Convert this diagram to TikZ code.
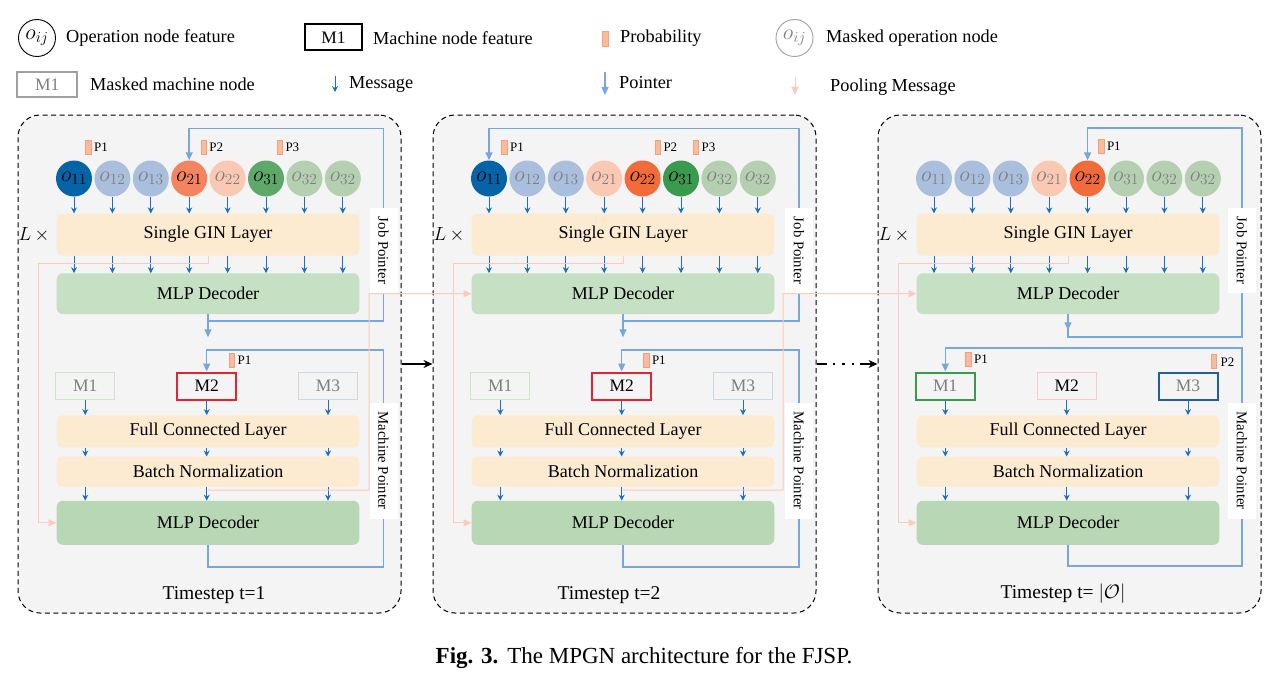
\RequirePackage{fix-cm}
\documentclass[tikz,border=0pt]{standalone}
\usepackage{fontspec}
\setmainfont{Liberation Serif}
\usetikzlibrary{arrows.meta,calc}
\newcommand\myfs[1]{\fontsize{#1}{#1}\selectfont}
\definecolor{panelbg}{HTML}{F4F4F4}
\definecolor{lyrfill}{HTML}{FCEBD1}
\definecolor{mlpA}{HTML}{C6E0C4}
\definecolor{mlpB}{HTML}{B8D8B5}
\definecolor{opblue}{HTML}{0563A8}
\definecolor{mskblue}{HTML}{A9BFDD}
\definecolor{oporange}{HTML}{F4845F}
\definecolor{mskorange}{HTML}{FAC8B3}
\definecolor{opgreen}{HTML}{5EA96A}
\definecolor{opgreen2}{HTML}{3A9A4F}
\definecolor{mskgreen}{HTML}{B5D0B1}
\definecolor{opred}{HTML}{F26B3A}
\definecolor{msgblue}{HTML}{1F6EBF}
\definecolor{ptrblue}{HTML}{79A6DB}
\definecolor{poolpink}{HTML}{FBCBBB}
\definecolor{probfill}{HTML}{F9BB9E}
\definecolor{probdraw}{HTML}{F4A07D}
\definecolor{m1green}{HTML}{CFE4CB}
\definecolor{m3blue}{HTML}{C8D8EC}
\definecolor{m2red}{HTML}{E52330}
\definecolor{m1dark}{HTML}{3C9A4C}
\definecolor{m3dark}{HTML}{1F5DA6}
\definecolor{m2pink}{HTML}{F8C9CD}
\definecolor{mskgray}{HTML}{7E7E7E}
\definecolor{lgray}{HTML}{A0A0A0}

\tikzset{
  panel/.style={draw=black, line width=1pt, dash pattern=on 5pt off 3.5pt, rounded corners=22pt, fill=panelbg, minimum width=383pt, minimum height=498pt, inner sep=0pt},
  lyr/.style={rounded corners=6pt, fill=lyrfill, minimum width=302.6pt, inner sep=0pt, font={\myfs{18}}},
  opnode/.style={circle, minimum size=36pt, inner sep=0pt, font={\myfs{22}}},
  mach/.style={draw, minimum width=59pt, minimum height=27pt, inner sep=0pt, font={\myfs{17.5}}},
  prob/.style={fill=probfill, draw=probdraw, line width=0.6pt, minimum width=5.5pt, minimum height=14pt, inner sep=0pt},
  plab/.style={anchor=west, inner sep=0pt, font={\myfs{13}}},
  msg/.style={draw=msgblue, line width=0.9pt, -{Stealth[length=6pt,width=6pt]}},
  ptr/.style={draw=ptrblue, line width=1.5pt, -{Triangle[length=8pt,width=7pt]}},
  pool/.style={draw=poolpink, line width=1pt, -{Triangle[length=8pt,width=7pt]}},
  ptrlab/.style={fill=white, rotate=-90, minimum height=28pt, inner sep=0pt, font={\myfs{14.8}}},
  legtext/.style={anchor=west, inner sep=0pt, font={\myfs{18.3}}},
  tslab/.style={inner sep=0pt, font={\myfs{19.5}}},
}

% common body of a panel: #1 suffix, #2 list of operation nodes
\newcommand\panelbody[2]{%
  \foreach \i/\lab/\fc/\tc in {#2}{%
    \node[opnode, fill=\fc, text=\tc] (o#1\i) at ({74+38.4*(\i-1)},178.5) {$o_{\lab}$};}
  \node[lyr, minimum height=42pt] (gin#1) at (208,234.6) {Single GIN Layer};
  \node[lyr, fill=mlpA, minimum height=40.7pt] (mlpa#1) at (208,293.7) {MLP Decoder};
  \node[lyr, minimum height=32pt] (fc#1) at (208,431.3) {Full Connected Layer};
  \node[lyr, minimum height=30pt] (bn#1) at (208,471.7) {Batch Normalization};
  \node[lyr, fill=mlpB, minimum height=44pt] (mlpb#1) at (208,522.8) {MLP Decoder};
  \node[inner sep=0pt, font={\myfs{19}}] (L#1) at (34,235) {$L\,\times$};
  \foreach \i in {1,...,8}{%
    \draw[msg] (o#1\i.south) -- (o#1\i.south |- gin#1.north);
    \draw[msg] (o#1\i.south |- gin#1.south) -- (o#1\i.south |- mlpa#1.north);}
  \draw[pool] (gin#1.south) |- (38.5,263.3) |- (mlpb#1.west);
}
% machines: #1 suffix, #2 #3 #4 options of M1 M2 M3
\newcommand\machines[4]{%
  \node[mach, #2] (m1#1) at (85.3,386) {M1};
  \node[mach, #3] (m2#1) at (206.7,386) {M2};
  \node[mach, #4] (m3#1) at (328,386) {M3};
  \foreach \m in {m1#1,m2#1,m3#1}{%
    \draw[msg] (\m.south) -- (\m.south |- fc#1.north);
    \draw[msg] (\m.south |- fc#1.south) -- (\m.south |- bn#1.north);
    \draw[msg] (\m.south |- bn#1.south) -- (\m.south |- mlpb#1.north);}
}
% pointer labels: #1 suffix, #2 x
\newcommand\ptrlabels[2]{%
  \node[ptrlab, minimum width=85pt] (jp#1) at (#2,250.5) {Job Pointer};
  \node[ptrlab, minimum width=116pt] (mp#1) at (#2,460.5) {Machine Pointer};
}

\begin{document}
\begin{tikzpicture}[x=1pt,y=-1pt]
\useasboundingbox (0,0) rectangle (1286,677);

% ---------- legend ----------
\node[opnode, draw=black, line width=0.9pt, minimum size=37pt] (lgop) at (37,38) {$o_{ij}$};
\node[legtext] (lgoptx) at (66,38) {Operation node feature};
\node[mach, draw=black, line width=2pt, minimum width=57pt, minimum height=26pt] (lgm) at (333.5,37.5) {M1};
\node[legtext] (lgmtx) at (373,38) {Machine node feature};
\node[prob, minimum height=15pt, minimum width=6pt] (lgp) at (605.5,39) {};
\node[legtext] (lgptx) at (620,38) {Probability};
\node[opnode, draw=lgray, line width=0.9pt, text=mskgray, minimum size=37pt] (lgmo) at (794.5,38) {$o_{ij}$};
\node[legtext] (lgmotx) at (826,38) {Masked operation node};
\node[mach, draw=lgray, line width=2pt, text=mskgray, minimum width=60pt, minimum height=25pt] (lgmm) at (47.3,84.5) {M1};
\node[legtext] (lgmmtx) at (90,84) {Masked machine node};
\coordinate (lgmsg1) at (335,76); \coordinate (lgmsg2) at (335,92);
\draw[msg] (lgmsg1) -- (lgmsg2);
\node[legtext] (lgmsgtx) at (349,84) {Message};
\coordinate (lgptr1) at (605,72); \coordinate (lgptr2) at (605,95);
\draw[ptr] (lgptr1) -- (lgptr2);
\node[legtext] (lgptrtx) at (619,83) {Pointer};
\coordinate (lgpool1) at (795,77); \coordinate (lgpool2) at (795,95);
\draw[pool] (lgpool1) -- (lgpool2);
\node[legtext] (lgpooltx) at (830,87) {Pooling Message};

% ---------- panels ----------
\node[panel] (pa) at (209.5,364) {};
\node[panel] (pb) at (624.5,364) {};
\node[panel] (pc) at (1069.5,364) {};

% ---------- panel 1 ----------
\begin{scope}
\panelbody{a}{1/11/opblue/black,2/12/mskblue/mskgray,3/13/mskblue/mskgray,4/21/oporange/black,5/22/mskorange/mskgray,6/31/opgreen/black,7/32/mskgreen/mskgray,8/32/mskgreen/mskgray}
\machines{a}{draw=m1green,line width=1.3pt,text=mskgray}{draw=m2red,line width=2pt,text=black}{draw=m3blue,line width=1.3pt,text=mskgray}
\node[prob] (pra1) at (88.5,147) {}; \node[plab] (pla1) at (94,147) {P1};
\node[prob] (pra2) at (203.7,147) {}; \node[plab] (pla2) at (209.2,147) {P2};
\node[prob] (pra3) at (279.8,147) {}; \node[plab] (pla3) at (285.3,147) {P3};
\node[prob] (pma1) at (232,360.5) {}; \node[plab] (pmla1) at (237.5,360.5) {P1};
\draw[ptr] (mlpaa.south) -- ++(0,23);
\draw[ptr] (mlpaa.south) |- (383.5,321) -- (383.5,128.5) -| (oa4.north);
\draw[ptr] (mlpba.south) |- (383.5,567) -- (383.5,350) -| (m2a.north);
\ptrlabels{a}{383.5}
\node[tslab] (tsa) at (214,595) {Timestep t=1};
\end{scope}

% ---------- panel 2 ----------
\begin{scope}[xshift=415pt]
\panelbody{b}{1/11/opblue/black,2/12/mskblue/mskgray,3/13/mskblue/mskgray,4/21/mskorange/mskgray,5/22/opred/black,6/31/opgreen2/black,7/32/mskgreen/mskgray,8/32/mskgreen/mskgray}
\machines{b}{draw=m1green,line width=1.3pt,text=mskgray}{draw=m2red,line width=2pt,text=black}{draw=m3blue,line width=1.3pt,text=mskgray}
\node[prob] (prb1) at (89.5,147) {}; \node[plab] (plb1) at (95,147) {P1};
\node[prob] (prb2) at (242.8,147) {}; \node[plab] (plb2) at (248.3,147) {P2};
\node[prob] (prb3) at (281,147) {}; \node[plab] (plb3) at (286.5,147) {P3};
\node[prob] (pmb1) at (231.3,360.5) {}; \node[plab] (pmlb1) at (236.8,360.5) {P1};
\draw[ptr] (mlpab.south) -- ++(0,23);
\draw[ptr] (mlpab.south) |- (384,321) -- (384,128.5) -| (ob1.north);
\draw[ptr] (mlpbb.south) |- (384,567) -- (384,350) -| (m2b.north);
\ptrlabels{b}{384}
\node[tslab] (tsb) at (194,595) {Timestep t=2};
\end{scope}

% ---------- panel 3 ----------
\begin{scope}[xshift=860pt]
\panelbody{c}{1/11/mskblue/mskgray,2/12/mskblue/mskgray,3/13/mskblue/mskgray,4/21/mskorange/mskgray,5/22/opred/black,6/31/mskgreen/mskgray,7/32/mskgreen/mskgray,8/32/mskgreen/mskgray}
\machines{c}{draw=m1dark,line width=2pt,text=mskgray}{draw=m2pink,line width=1.3pt,text=black}{draw=m3dark,line width=2pt,text=mskgray}
\node[prob] (prc1) at (241.3,146) {}; \node[plab] (plc1) at (246.8,146) {P1};
\node[prob] (pmc1) at (108.3,359.5) {}; \node[plab] (pmlc1) at (114,359.5) {P1};
\node[prob] (pmc2) at (354,361.7) {}; \node[plab] (pmlc2) at (360.5,361.7) {P2};
\draw[ptr] (mlpac.south) -- ++(0,16);
\draw[ptr] (mlpac.south) |- (382,337) -- (382,128) -| (oc5.north);
\draw[ptr] (mlpbc.south) |- (382,566) -- (382,348) -| (m1c.north);
\ptrlabels{c}{382}
\node[tslab] (tsc) at (203,594) {Timestep t= $|\mathcal{O}|$};
\end{scope}

% ---------- pooling messages between panels ----------
\coordinate (poola) at ($(bna.south)+(0,3.3)$);
\draw[pool] (poola) -- (369,490) |- (mlpab.west);
\coordinate (poolb) at ($(bnb.south)+(0,3.3)$);
\draw[pool] (poolb) -- (783,490) |- (mlpac.west);

% ---------- timestep arrows ----------
\draw[line width=1.6pt, -{Stealth[length=9pt,width=8pt]}] (pa.east) -- (pb.west);
\draw[line width=1.6pt, dash pattern=on 10pt off 6pt on 2.5pt off 7pt on 2.5pt off 7pt on 2.5pt off 6pt on 100pt off 1pt, -{Stealth[length=9pt,width=8pt]}] (pb.east) -- (pc.west);

% ---------- caption ----------
\node[inner sep=0pt, font={\myfs{23}}] (cap) at (644,658) {\textbf{Fig. 3.}\hspace{9pt}The MPGN architecture for the FJSP.};
\end{tikzpicture}
\end{document}
